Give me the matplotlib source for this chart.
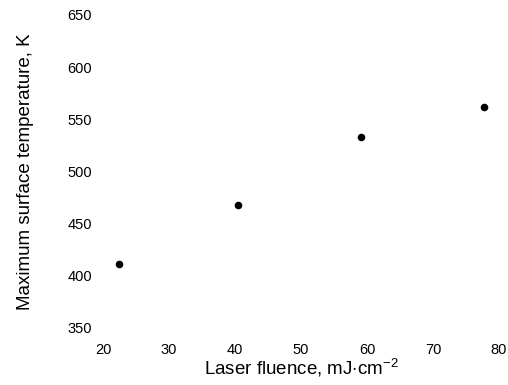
import matplotlib
matplotlib.use("Agg")
import matplotlib.pyplot as plt

# Data
fluence = [22.4, 40.5, 59.1, 77.7]          # mJ/cm^2
max_temp = [411.5, 468.0, 533.5, 561.5]     # K

x_ticks = [20, 30, 40, 50, 60, 70, 80]
y_ticks = [350, 400, 450, 500, 550, 600, 650]

plt.rcParams['font.family'] = ['Liberation Sans', 'DejaVu Sans']
plt.rcParams['mathtext.fontset'] = 'custom'
plt.rcParams['mathtext.rm'] = 'Liberation Sans'
plt.rcParams['mathtext.it'] = 'Liberation Sans:italic'
plt.rcParams['mathtext.bf'] = 'Liberation Sans:bold'

fig = plt.figure(figsize=(5.08, 3.85), dpi=100)
ax = fig.add_axes([103/508, 1 - 328/385, (499-103)/508, (328-15)/385])

ax.scatter(fluence, max_temp, s=30, color='black', zorder=3, linewidths=0)

ax.set_xlim(20, 80)
ax.set_ylim(350, 650)
ax.set_xticks(x_ticks)
ax.set_yticks(y_ticks)
ax.set_xticklabels([str(v) for v in x_ticks])
ax.set_yticklabels([str(v) for v in y_ticks])
ax.tick_params(axis='both', length=0, labelsize=10.5, colors='black')
ax.tick_params(axis='y', pad=8)
ax.tick_params(axis='x', pad=11)

for s in ax.spines.values():
    s.set_visible(False)

ax.set_xlabel(r"Laser fluence, mJ$\cdot$cm$^{-2}$", fontsize=13.5, labelpad=0)
ax.set_ylabel("Maximum surface temperature, K", fontsize=13.5, labelpad=24)

fig.savefig("out.png", dpi=100, facecolor='white')
